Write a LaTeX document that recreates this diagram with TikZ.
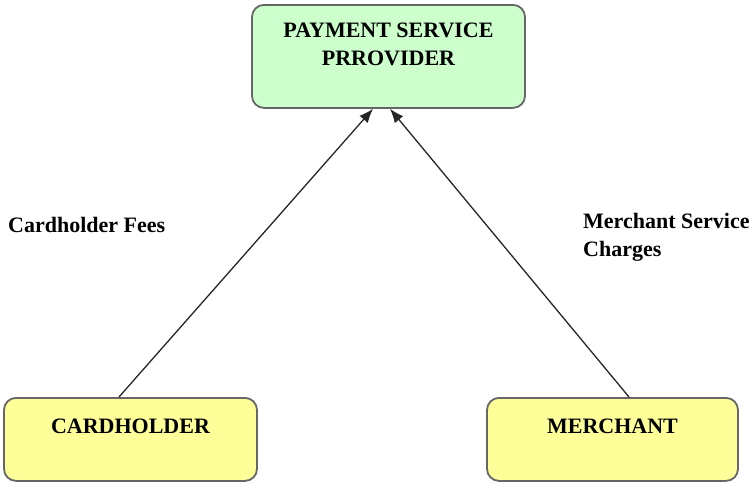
\documentclass[tikz,border=0pt]{standalone}
\usepackage{fontspec}
\setmainfont{Liberation Serif}
\usetikzlibrary{arrows.meta}
\definecolor{pspgreen}{HTML}{CCFFCC}
\definecolor{partyyellow}{HTML}{FFFF99}
\begin{document}
\begin{tikzpicture}[x=1pt,y=-1pt,>={Latex[length=14pt,width=11pt]},
  box/.style={draw=black!60,line width=1.8pt,rounded corners=12pt,inner sep=0pt,
    align=center,font=\fontsize{22}{28}\selectfont\bfseries},
  fee/.style={anchor=base west,inner sep=0pt,align=left,
    font=\fontsize{22}{28}\selectfont\bfseries}]
  \useasboundingbox (0,0) rectangle (755,482);
  % boxes
  \node[box,fill=pspgreen,minimum width=273pt,text height=61pt,text depth=42pt,anchor=north]
    (psp) at (388.5,4) {PAYMENT SERVICE\\PRROVIDER};
  \node[box,fill=partyyellow,minimum width=253pt,text height=36pt,text depth=47pt,anchor=north]
    (card) at (130.5,397) {CARDHOLDER};
  \node[box,fill=partyyellow,minimum width=251pt,text height=36pt,text depth=47pt,anchor=north]
    (merch) at (612.5,397) {MERCHANT};
  % flows
  \draw[->,line width=1.3pt,black!85] ([xshift=-11.5pt]card.north) -- ([xshift=-15.5pt]psp.south);
  \draw[->,line width=1.3pt,black!85] ([xshift=16.5pt]merch.north) -- ([xshift=1.5pt]psp.south);
  % labels
  \node[fee] (cardfee) at (8,232) {Cardholder Fees};
  \node[fee] (merchfee) at (583,256) {Merchant Service\\Charges};
\end{tikzpicture}
\end{document}
